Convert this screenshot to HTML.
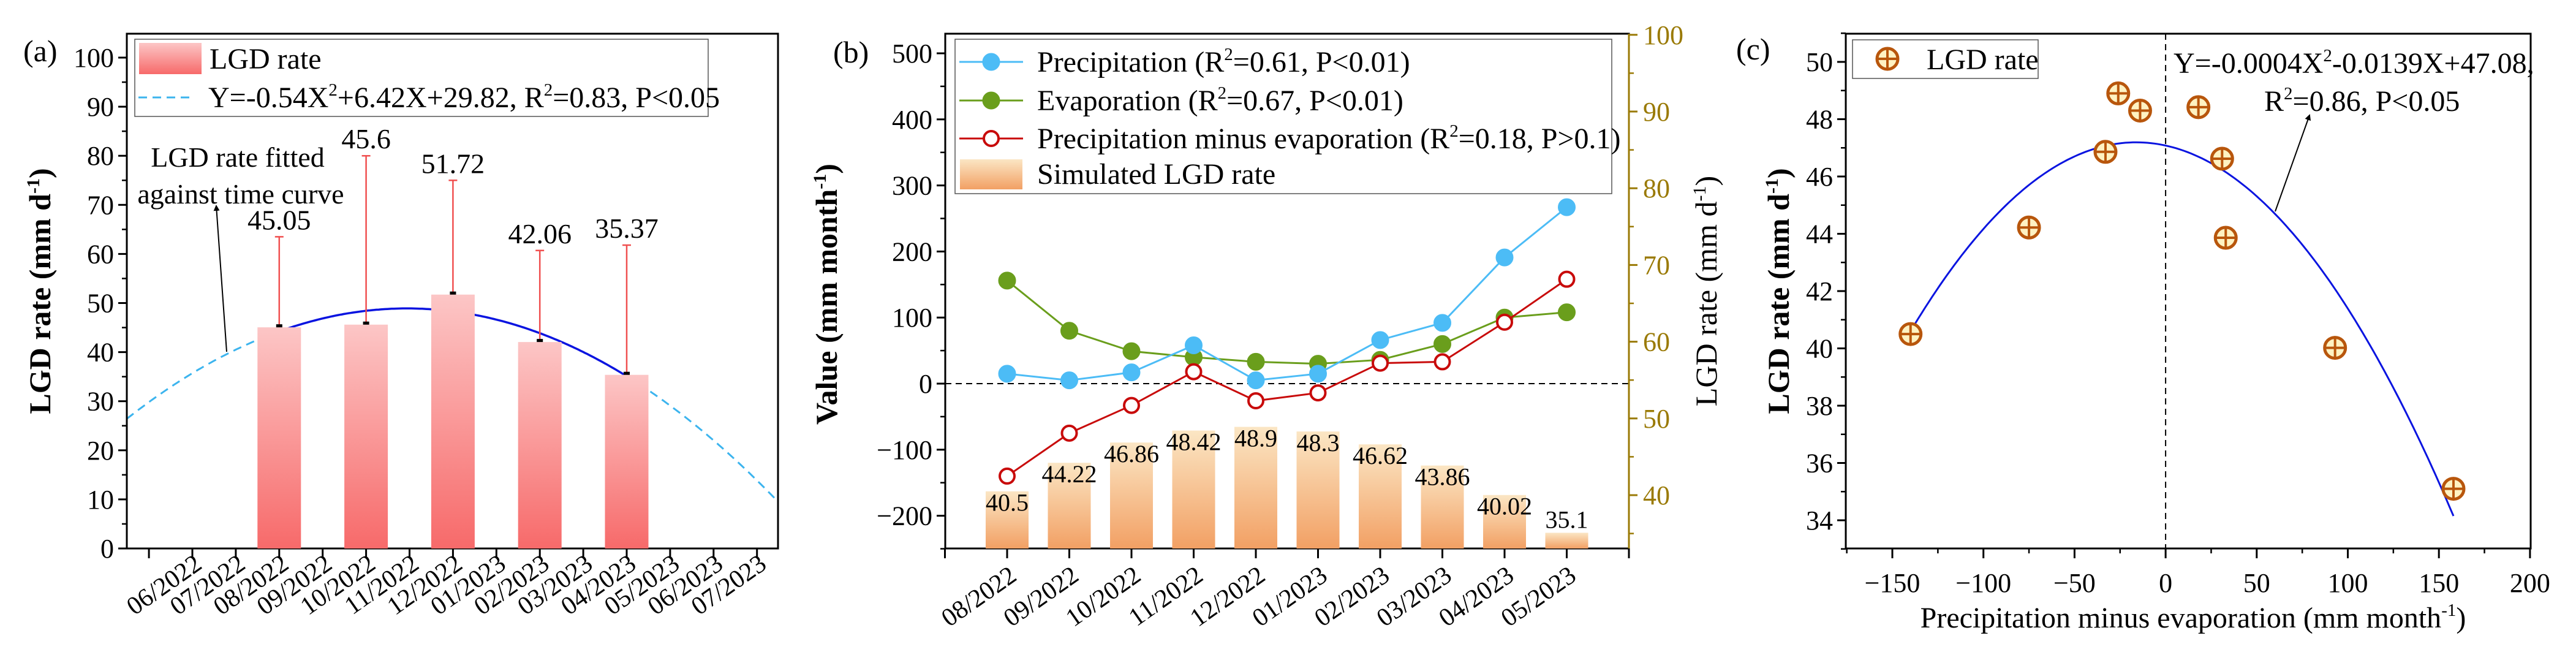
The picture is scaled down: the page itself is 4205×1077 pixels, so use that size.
<!DOCTYPE html>
<html><head><meta charset="utf-8"><style>
html,body{margin:0;padding:0;background:#fff;}
svg, svg text{font-family:"Liberation Serif","DejaVu Serif",serif;}
</style></head><body>
<svg id="fig" width="4205" height="1072" viewBox="0 0 4205 1072" xmlns="http://www.w3.org/2000/svg" font-family="Liberation Serif, serif">
<defs>
<linearGradient id="gA" x1="0" y1="0" x2="0" y2="1"><stop offset="0" stop-color="#fcc6c6"/><stop offset="1" stop-color="#f76a6a"/></linearGradient>
<linearGradient id="gB" x1="0" y1="0" x2="0" y2="1"><stop offset="0" stop-color="#fbe6c4"/><stop offset="1" stop-color="#f2a064"/></linearGradient>
<marker id="arr" markerWidth="10" markerHeight="10" refX="8" refY="5" orient="auto" markerUnits="userSpaceOnUse"><path d="M0,0 L10,5 L0,10 z" fill="#000"/></marker>
</defs>
</svg>
<script>
// ---- Panel (a) data ----
const monthsA = ["06/2022","07/2022","08/2022","09/2022","10/2022","11/2022","12/2022","01/2023","02/2023","03/2023","04/2023","05/2023","06/2023","07/2023"];
const barIdxA = [2,4,6,8,10];
const lgdA = [45.05,45.6,51.72,42.06,35.37];
const errTopA = [63.5,80,75,60.7,61.8];
const fitA = [-0.54,6.42,29.82]; // Y = aX^2 + bX + c, X = month index + 1
const yTicksA = [0,10,20,30,40,50,60,70,80,90,100];
// ---- Panel (b) data ----
const monthsB = ["08/2022","09/2022","10/2022","11/2022","12/2022","01/2023","02/2023","03/2023","04/2023","05/2023"];
const precipB = [15,5,17,58,5,15,66,92,191,267];
const evapB = [156,80,49,40,33,30,36,60,100,108];
const pmeB = [-140,-75,-33,18,-26,-14,31,33,93,158];
const simLgdB = [40.5,44.22,46.86,48.42,48.9,48.3,46.62,43.86,40.02,35.1];
const yTicksB = [-200,-100,0,100,200,300,400,500];
const yTicksBR = [40,50,60,70,80,90,100];
// ---- Panel (c) data ----
const pmeC = [-140,-75,-33,18,-26,-14,31,33,93,158];
const lgdC = [40.5,44.22,46.86,48.42,48.9,48.3,46.62,43.86,40.02,35.1];
const fitC = [-0.00043,-0.0139,47.08];
const xTicksC = [-150,-100,-50,0,50,100,150,200];
const yTicksC = [34,36,38,40,42,44,46,48,50];

const NS="http://www.w3.org/2000/svg";
const svg=document.getElementById('fig');
function mk(tag,attrs,parent,text){const e=document.createElementNS(NS,tag);if(tag==='text')e.setAttribute('font-family','Liberation Serif, serif');for(const k in attrs)e.setAttribute(k,attrs[k]);if(text!==undefined)e.textContent=text;(parent||svg).appendChild(e);return e;}
function grp(name){const g=mk('g',{});return g;}

// ================= Panel A =================
const xA=i=>314+70.9*i, yA=v=>895-8.01*v;
const gA=grp('panel-a');
const barsA=grp('bars-a');
lgdA.forEach((v,k)=>{const cx=xA(barIdxA[k]);
 const r=mk('rect',{x:cx-35.5,y:yA(v),width:71,height:yA(0)-yA(v),fill:'url(#gA)'},barsA);
 
 });
let dL='',dS='',dR='';
for(let i=-1.51;i<=13.48;i+=0.05){const X=i+1;const v=fitA[0]*X*X+fitA[1]*X+fitA[2];const p=xA(i).toFixed(1)+','+yA(v).toFixed(1)+' ';
 if(i<2)dL+=p; else if(i<=10.02)dS+=p; else dR+=p;}
const c1=mk('polyline',{points:dL+xA(2)+','+yA(fitA[0]*9+fitA[1]*3+fitA[2]),fill:'none',stroke:'#3cb4ee','stroke-width':3,'stroke-dasharray':'14,9'},gA);

const c2=mk('polyline',{points:dS,fill:'none',stroke:'#0a14e0','stroke-width':3.5},gA);

const c3=mk('polyline',{points:xA(10)+','+yA(fitA[0]*121+fitA[1]*11+fitA[2])+' '+dR,fill:'none',stroke:'#3cb4ee','stroke-width':3,'stroke-dasharray':'14,9'},gA);

lgdA.forEach((v,k)=>{const cx=xA(barIdxA[k]);
 const e=mk('path',{d:`M${cx},${yA(v)} V${yA(errTopA[k])} M${cx-7},${yA(errTopA[k])} H${cx+7}`,stroke:'#f05050','stroke-width':2.5,fill:'none'},gA);
 
 const m=mk('rect',{x:cx-5,y:yA(v)-5,width:10,height:10,fill:'#000'},gA);
 
 const t=mk('text',{x:cx,y:yA(errTopA[k])-12,'font-size':46,'text-anchor':'middle'},gA,String(v));
 });
mk('rect',{x:207,y:55,width:1063,height:840,fill:'none',stroke:'#000','stroke-width':3},gA);
yTicksA.forEach(v=>{mk('line',{x1:207,x2:193,y1:yA(v),y2:yA(v),stroke:'#000','stroke-width':3},gA);
 const t=mk('text',{x:186,y:yA(v)+15,'font-size':44,'text-anchor':'end'},gA,String(v));
 
 if(v<100)mk('line',{x1:207,x2:199,y1:yA(v+5),y2:yA(v+5),stroke:'#000','stroke-width':2.5},gA);});
for(let i=-1;i<=13;i++)mk('line',{x1:xA(i),x2:xA(i),y1:895,y2:911,stroke:'#000','stroke-width':3},gA);
monthsA.forEach((m,i)=>{const ax=xA(i)+18, ay=926;
 const t=mk('text',{x:ax,y:ay,'font-size':42,'text-anchor':'end',transform:`rotate(-35 ${ax} ${ay})`},gA,m);
 });
let t=mk('text',{x:0,y:0,'font-size':50,'font-weight':'bold','text-anchor':'middle',transform:'translate(82,475) rotate(-90)'},gA);

t.innerHTML='LGD rate (mm d<tspan font-size="30" dy="-18">-1</tspan><tspan dy="18">)</tspan>';
t=mk('text',{x:38,y:100,'font-size':50},gA,'(a)');
const lgA=grp('legend-a');
mk('rect',{x:220,y:64,width:936,height:126,fill:'#fff',stroke:'#555','stroke-width':1.5},lgA);
mk('rect',{x:227,y:70,width:102,height:51,fill:'url(#gA)'},lgA);
mk('text',{x:342,y:112,'font-size':48},lgA,'LGD rate');
mk('line',{x1:226,x2:312,y1:159,y2:159,stroke:'#3cb4ee','stroke-width':3,'stroke-dasharray':'14,9'},lgA);
t=mk('text',{x:340,y:175,'font-size':48},lgA);
t.innerHTML='Y=-0.54X<tspan font-size="29" dy="-19">2</tspan><tspan dy="19">+6.42X+29.82, R</tspan><tspan font-size="29" dy="-19">2</tspan><tspan dy="19">=0.83, P&lt;0.05</tspan>';
const anA=grp('annotation-a');
mk('text',{x:388,y:272,'font-size':46,'text-anchor':'middle'},anA,'LGD rate fitted');
mk('text',{x:393,y:332,'font-size':46,'text-anchor':'middle'},anA,'against time curve');
mk('line',{x1:370,y1:574,x2:353,y2:336,stroke:'#000','stroke-width':2,'marker-end':'url(#arr)'},anA);

// ================= Panel B =================
const xB=i=>1644+101.5*i, yB=v=>626-1.078*v, yR=v=>808-12.52*(v-40);
const gB=grp('panel-b');
const barsB=grp('bars-b');
simLgdB.forEach((v,i)=>{const r=mk('rect',{x:xB(i)-35,y:yR(v),width:70,height:895-yR(v),fill:'url(#gB)'},barsB);
 });
simLgdB.forEach((v,i)=>{const h=895-yR(v);const tt=mk('text',{x:xB(i),y:h>45?yR(v)+32:yR(v)-8,'font-size':40,'text-anchor':'middle'},barsB,String(v));
 });
mk('line',{x1:1543,x2:2659,y1:yB(0),y2:yB(0),stroke:'#000','stroke-width':2,'stroke-dasharray':'10,7'},gB);
function series(vals,color,name,hollow){const g=grp(name);
 mk('polyline',{points:vals.map((v,i)=>xB(i)+','+yB(v)).join(' '),fill:'none',stroke:color,'stroke-width':3},g);
 vals.forEach((v,i)=>{const c=mk('circle',{cx:xB(i),cy:yB(v),r:hollow?12:14,fill:hollow?'#fff':color,stroke:color,'stroke-width':hollow?4:1},g);
  });}
series(evapB,'#6a9e1c','evaporation-series',false);
series(precipB,'#4cbcf6','precipitation-series',false);
series(pmeB,'#c80a0a','pme-series',true);
mk('rect',{x:1543,y:55,width:1116,height:840,fill:'none',stroke:'#000','stroke-width':3},gB);
mk('line',{x1:2659,x2:2659,y1:55,y2:895,stroke:'#9a7a06','stroke-width':3},gB);
yTicksB.forEach(v=>{mk('line',{x1:1543,x2:1529,y1:yB(v),y2:yB(v),stroke:'#000','stroke-width':3},gB);
 const tt=mk('text',{x:1522,y:yB(v)+15,'font-size':44,'text-anchor':'end'},gB,v<0?'\u2212'+(-v):String(v));
 
 if(v<500)mk('line',{x1:1543,x2:1535,y1:yB(v+50),y2:yB(v+50),stroke:'#000','stroke-width':2.5},gB);});
mk('line',{x1:1543,x2:1535,y1:yB(-250),y2:yB(-250),stroke:'#000','stroke-width':2.5},gB);
yTicksBR.forEach(v=>{mk('line',{x1:2659,x2:2673,y1:yR(v),y2:yR(v),stroke:'#9a7a06','stroke-width':3},gB);
 const tt=mk('text',{x:2682,y:yR(v)+15,'font-size':44,fill:'#9a7a06'},gB,String(v));
 
 mk('line',{x1:2659,x2:2667,y1:yR(v-5),y2:yR(v-5),stroke:'#9a7a06','stroke-width':2.5},gB);});
for(let i=-1;i<=10;i++)mk('line',{x1:xB(i),x2:xB(i),y1:895,y2:911,stroke:'#000','stroke-width':3},gB);
monthsB.forEach((m,i)=>{const ax=xB(i)+18, ay=945;
 const tt=mk('text',{x:ax,y:ay,'font-size':42,'text-anchor':'end',transform:`rotate(-35 ${ax} ${ay})`},gB,m);
 });
t=mk('text',{x:0,y:0,'font-size':50,'font-weight':'bold','text-anchor':'middle',transform:'translate(1366,480) rotate(-90)'},gB);

t.innerHTML='Value (mm month<tspan font-size="30" dy="-18">-1</tspan><tspan dy="18">)</tspan>';
t=mk('text',{x:0,y:0,'font-size':50,fill:'#000','text-anchor':'middle',transform:'translate(2802,475) rotate(-90)'},gB);

t.innerHTML='LGD rate (mm d<tspan font-size="30" dy="-18">-1</tspan><tspan dy="18">)</tspan>';
t=mk('text',{x:1360,y:102,'font-size':50},gB,'(b)');
const lgB=grp('legend-b');
mk('rect',{x:1559,y:64,width:1072,height:252,fill:'#fff',stroke:'#555','stroke-width':1.5},lgB);
[['#4cbcf6',false,101,'Precipitation (R','=0.61, P&lt;0.01)'],['#6a9e1c',false,164,'Evaporation (R','=0.67, P&lt;0.01)'],['#c80a0a',true,226,'Precipitation minus evaporation (R','=0.18, P&gt;0.1)']].forEach(e=>{
 mk('line',{x1:1566,x2:1670,y1:e[2],y2:e[2],stroke:e[0],'stroke-width':3},lgB);
 mk('circle',{cx:1618,cy:e[2],r:e[1]?12:14,fill:e[1]?'#fff':e[0],stroke:e[0],'stroke-width':e[1]?4:1},lgB);
 const tt=mk('text',{x:1693,y:e[2]+16,'font-size':48},lgB);
 tt.innerHTML=e[3]+'<tspan font-size="29" dy="-19">2</tspan><tspan dy="19">'+e[4]+'</tspan>';});
mk('rect',{x:1567,y:260,width:102,height:49,fill:'url(#gB)'},lgB);
mk('text',{x:1693,y:300,'font-size':48},lgB,'Simulated LGD rate');

// ================= Panel C =================
const xC=v=>3089+(v+150)*2.974, yC=v=>849-(v-34)*46.75;
const gC=grp('panel-c');
mk('line',{x1:xC(0),x2:xC(0),y1:55,y2:895,stroke:'#000','stroke-width':2,'stroke-dasharray':'10,7'},gC);
let pc='';for(let x=-140;x<=158.01;x+=2){const v=fitC[0]*x*x+fitC[1]*x+fitC[2];pc+=xC(x).toFixed(1)+','+yC(v).toFixed(1)+' ';}
t=mk('polyline',{points:pc,fill:'none',stroke:'#0a14e0','stroke-width':3},gC);
function plusMarker(cx,cy,parent,name){const g=mk('g',{},parent);
 mk('circle',{cx:cx,cy:cy,r:17,fill:'#fff2c2',stroke:'#b8560c','stroke-width':5},g);
 mk('path',{d:`M${cx-17},${cy} H${cx+17} M${cx},${cy-17} V${cy+17}`,stroke:'#b8560c','stroke-width':4},g);}
pmeC.forEach((x,i)=>plusMarker(xC(x),yC(lgdC[i]),gC,'point-c'));
mk('rect',{x:3013,y:55,width:1118,height:840,fill:'none',stroke:'#000','stroke-width':3},gC);
xTicksC.forEach(v=>{mk('line',{x1:xC(v),x2:xC(v),y1:895,y2:911,stroke:'#000','stroke-width':3},gC);
 const tt=mk('text',{x:xC(v),y:966,'font-size':44,'text-anchor':'middle'},gC,v<0?'\u2212'+(-v):String(v));
 
 mk('line',{x1:xC(v-25),x2:xC(v-25),y1:895,y2:903,stroke:'#000','stroke-width':2.5},gC);});
yTicksC.forEach(v=>{mk('line',{x1:3013,x2:2999,y1:yC(v),y2:yC(v),stroke:'#000','stroke-width':3},gC);
 const tt=mk('text',{x:2992,y:yC(v)+15,'font-size':44,'text-anchor':'end'},gC,String(v));
 
 mk('line',{x1:3013,x2:3005,y1:yC(v+1),y2:yC(v+1),stroke:'#000','stroke-width':2.5},gC);});
mk('line',{x1:3013,x2:3005,y1:yC(33),y2:yC(33),stroke:'#000','stroke-width':2.5},gC);
t=mk('text',{x:3580,y:1024,'font-size':48,'text-anchor':'middle'},gC);
t.innerHTML='Precipitation minus evaporation (mm month<tspan font-size="29" dy="-19">-1</tspan><tspan dy="19">)</tspan>';
t=mk('text',{x:0,y:0,'font-size':50,'font-weight':'bold','text-anchor':'middle',transform:'translate(2920,475) rotate(-90)'},gC);

t.innerHTML='LGD rate (mm d<tspan font-size="30" dy="-18">-1</tspan><tspan dy="18">)</tspan>';
t=mk('text',{x:2834,y:97,'font-size':50},gC,'(c)');
const lgC=grp('legend-c');
mk('rect',{x:3024,y:65,width:303,height:63,fill:'#fff',stroke:'#555','stroke-width':1.5},lgC);
plusMarker(3081,96,lgC,'legend-marker');
mk('text',{x:3145,y:113,'font-size':48},lgC,'LGD rate');
const anC=grp('annotation-c');
t=mk('text',{x:3548,y:119,'font-size':48},anC);
t.innerHTML='Y=-0.0004X<tspan font-size="29" dy="-19">2</tspan><tspan dy="19">-0.0139X+47.08,</tspan>';
t=mk('text',{x:3696,y:181,'font-size':48},anC);
t.innerHTML='R<tspan font-size="29" dy="-19">2</tspan><tspan dy="19">=0.86, P&lt;0.05</tspan>';
mk('line',{x1:3714,y1:345,x2:3770,y2:188,stroke:'#000','stroke-width':2,'marker-end':'url(#arr)'},anC);
</script>
</body></html>
